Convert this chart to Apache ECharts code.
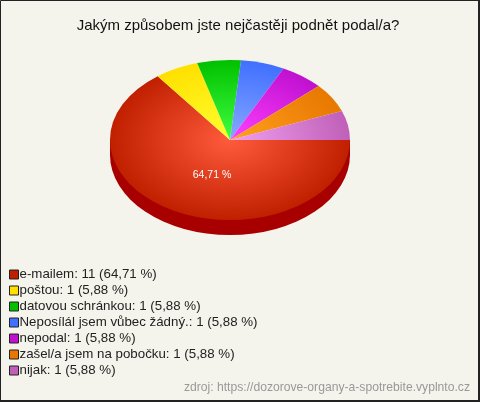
<!DOCTYPE html>
<html><head><meta charset="utf-8">
<style>html,body{margin:0;padding:0;background:#f5f4ec}#c{width:480px;height:402px}</style>
<script src="https://cdn.jsdelivr.net/npm/echarts@6/dist/echarts.min.js"></script>
</head><body><div id="c"></div>
<script>
const titleText = 'Jakým způsobem jste nejčastěji podnět podal/a?';
const sourceText = 'zdroj: https://dozorove-organy-a-spotrebite.vyplnto.cz';
const categories = ['e-mailem','poštou','datovou schránkou','Neposílál jsem vůbec žádný.','nepodal','zašel/a jsem na pobočku','nijak'];
const values = [11,1,1,1,1,1,1];
const percents = ['64,71','5,88','5,88','5,88','5,88','5,88','5,88'];
const rimColors = ['#c02000','#ffe000','#00c000','#4070ff','#c010d0','#e87800','#c060b8'];
const hubColors = ['#ff5a3c','#ffff30','#40ff40','#88a8ff','#ff40ff','#ffa020','#f0a0f0'];
const legendNames = categories.map((c,i)=>c+': '+values[i]+' ('+percents[i]+' %)');
const total = values.reduce((a,b)=>a+b,0);
const CX=230,CY=140,RX=120,RY=80,DEPTH=15;
const chart = echarts.init(document.getElementById('c'),null,{renderer:'canvas'});
function makeRender(i){
  return function(params,api){
    let before=0; for(let k=0;k<i;k++) before+=values[k];
    const a0=before/total*Math.PI*2, a1=(before+api.value(0))/total*Math.PI*2;
    const children=[];
    if(i===0){
      children.push({type:'sector',x:CX,y:CY+DEPTH,scaleY:RY/RX,shape:{cx:0,cy:0,r:RX,r0:0,startAngle:0,endAngle:Math.PI,clockwise:true},style:{fill:'#a80000'}});
      children.push({type:'rect',shape:{x:CX-RX,y:CY,width:RX*2,height:DEPTH},style:{fill:'#a80000'}});
    }
    children.push({type:'sector',x:CX,y:CY,scaleY:RY/RX,shape:{cx:0,cy:0,r:RX,r0:0,startAngle:a0,endAngle:a1,clockwise:true},
      style:{fill:new echarts.graphic.RadialGradient(0,0,RX,[{offset:0,color:hubColors[i]},{offset:1,color:rimColors[i]}],true)}});
    if(i===0){
      children.push({type:'text',x:212,y:175,style:{text:percents[i]+' %',fill:'#ffffff',font:'10.5px "Liberation Sans"',align:'center',verticalAlign:'middle'}});
    }
    return {type:'group',children};
  };
}
chart.setOption({
  animation:false,
  backgroundColor:'#f5f4ec',
  title:{text:titleText,left:233,top:13,textAlign:'center',textStyle:{fontFamily:'Liberation Sans',fontSize:15,fontWeight:'normal',color:'#111'}},
  legend:{orient:'vertical',left:4,top:263,itemWidth:9,itemHeight:9,itemGap:3,icon:'rect',selectedMode:false,
    data:legendNames.map((n,i)=>({name:n,itemStyle:{color:rimColors[i],borderColor:'#222',borderWidth:1}})),
    textStyle:{fontFamily:'Liberation Sans',fontSize:13.3,color:'#222',padding:[0,0,0,-4],lineHeight:12}},
  graphic:[
    {type:'rect',z:100,silent:true,shape:{x:0.5,y:0.5,width:478,height:400},style:{fill:'none',stroke:'#222',lineWidth:1}},
    {type:'rect',z:100,silent:true,shape:{x:478,y:0,width:2,height:402},style:{fill:'#222'}},
    {type:'rect',z:100,silent:true,shape:{x:0,y:400,width:480,height:2},style:{fill:'#222'}},
    {type:'text',z:100,silent:true,x:470,y:388,style:{text:sourceText,fill:'#999',font:'12.15px "Liberation Sans"',align:'right',verticalAlign:'middle'}}
  ],
  series:values.map((v,i)=>({type:'custom',name:legendNames[i],coordinateSystem:'none',silent:true,itemStyle:{color:rimColors[i]},renderItem:makeRender(i),data:[v]}))
});
</script></body></html>
